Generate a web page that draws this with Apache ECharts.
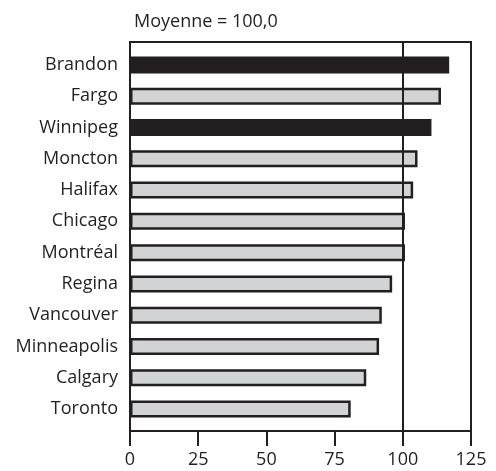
<!DOCTYPE html>
<html>
<head>
<meta charset="utf-8">
<script src="https://cdn.jsdelivr.net/npm/echarts@6/dist/echarts.min.js"></script>
<style>
  html, body { margin: 0; padding: 0; background: #fff; }
  #chart { width: 496px; height: 471px; }
</style>
</head>
<body>
<div id="chart"></div>
<script>
// données (moyenne = 100)
var villes = ['Brandon', 'Fargo', 'Winnipeg', 'Moncton', 'Halifax', 'Chicago',
              'Montréal', 'Regina', 'Vancouver', 'Minneapolis', 'Calgary', 'Toronto'];
var indices = [117.0, 114.0, 110.5, 105.4, 103.8, 100.8, 100.8, 96.1, 92.3, 91.3, 86.6, 80.9];
var enEvidence = ['Brandon', 'Winnipeg'];
var ticksX = [0, 25, 50, 75, 100, 125];
var moyenne = 100;

var ink = '#231f20';
var font = 'Open Sans';

var barData = indices.map(function (v, i) {
  var dark = enEvidence.indexOf(villes[i]) >= 0;
  return {
    value: v,
    itemStyle: { color: dark ? ink : '#d1d3d4', borderColor: ink, borderWidth: 2.5 }
  };
});

var myChart = echarts.init(document.getElementById('chart'));
var option = {
  backgroundColor: '#fff',
  animation: false,
  title: {
    text: 'Moyenne = ' + moyenne.toFixed(1).replace('.', ','),
    left: 129, top: 8,
    textStyle: { color: ink, fontFamily: font, fontWeight: 'normal', fontSize: 18 }
  },
  grid: [
    // cadre + axe des x
    { left: 130, right: 25, top: 42, bottom: 40, show: true, borderColor: ink, borderWidth: 2 },
    // barres
    { left: 130, right: 25, top: 49.4, bottom: 46.4 }
  ],
  xAxis: [
    {
      gridIndex: 0, type: 'value', min: ticksX[0], max: ticksX[ticksX.length - 1], interval: 25,
      axisLine: { show: true, lineStyle: { color: ink, width: 2 } },
      axisTick: { show: true, inside: false, length: 15, lineStyle: { color: ink, width: 2 } },
      axisLabel: { color: ink, fontFamily: font, fontSize: 18, margin: 20 },
      splitLine: { show: false }
    },
    {
      gridIndex: 1, type: 'value', min: ticksX[0], max: ticksX[ticksX.length - 1],
      show: false, splitLine: { show: false }
    }
  ],
  yAxis: [
    { gridIndex: 0, type: 'value', min: 0, max: 1, show: false, splitLine: { show: false } },
    {
      gridIndex: 1, type: 'category', data: villes, inverse: true,
      axisLine: { show: false }, axisTick: { show: false },
      axisLabel: { color: ink, fontFamily: font, fontSize: 18, margin: 12 }
    }
  ],
  series: [
    {
      type: 'line', xAxisIndex: 0, yAxisIndex: 0, data: [], silent: true,
      markLine: {
        silent: true, symbol: 'none', label: { show: false },
        lineStyle: { color: ink, width: 2, type: 'solid' },
        data: [{ xAxis: moyenne }]
      }
    },
    {
      type: 'bar', xAxisIndex: 1, yAxisIndex: 1, barWidth: 17,
      data: barData
    }
  ]
};
myChart.setOption(option);
</script>
</body>
</html>
